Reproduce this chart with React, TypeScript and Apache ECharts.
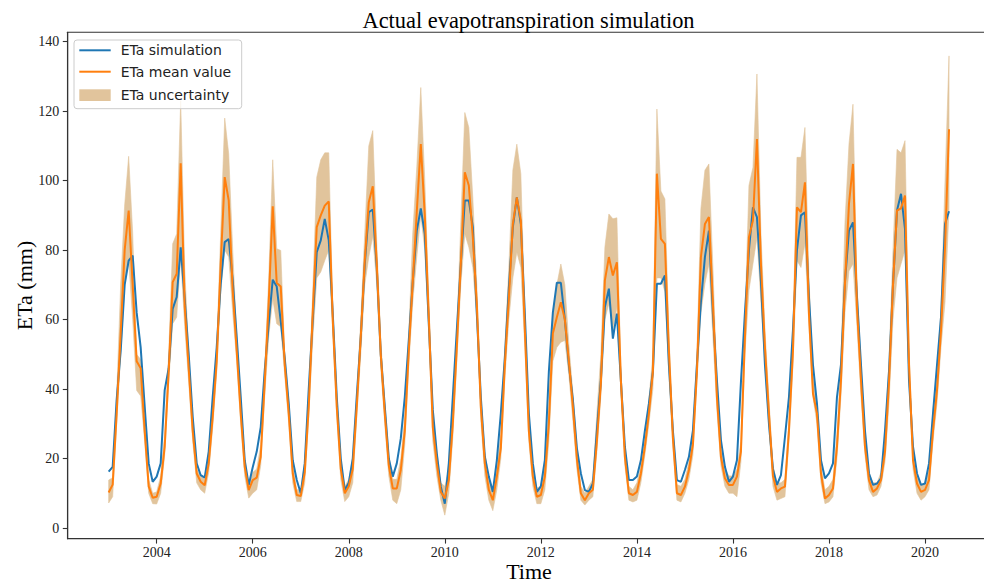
import React, { useEffect, useRef } from "react";
import * as echarts from "echarts";

// Monthly series, first value = January 2003, last value = July 2020
const START_YEAR = 2003;

const simulation = [
  16.2, 17.6, 37, 51, 70, 77, 78.4, 62, 52, 35, 18.6, 13.3, // 2003
  14.8, 18.6, 39.7, 46, 63.1, 66.5, 80.8, 66, 50, 32, 18.6, 15.2, // 2004
  14.5, 22, 37.7, 52, 70.3, 82.3, 83.2, 71.3, 55, 37.7, 19.5, 12.4, // 2005
  17.5, 22, 29, 45.4, 58.8, 71.5, 69.5, 59.5, 49, 35.8, 19.5, 13.8, // 2006
  10, 18.6, 40, 60, 79.4, 82.8, 89, 82.8, 61.7, 37.7, 20, 10.9, // 2007
  13, 20, 38, 55, 76, 90.9, 91.7, 75, 50, 35, 20, 14.8, // 2008
  18.6, 25.8, 37.7, 54, 71, 85.6, 92, 84.7, 58.8, 34, 21.5, 11.9, // 2009
  7, 18.6, 37.7, 57, 76, 94.3, 94.3, 86.6, 61.7, 37.7, 20.5, 14.8, // 2010
  10.4, 19.5, 33, 49, 69, 86.6, 95.2, 87.5, 61.7, 33, 18.6, 10.4, // 2011
  12, 19.5, 45, 62, 70.6, 70.6, 60, 47, 37, 23, 15.7, 10.9, // 2012
  10.4, 12.8, 28, 42.5, 63.6, 68.9, 54.5, 61.7, 42.5, 23.4, 13.8, 13.8, // 2013
  14.8, 19.5, 28, 35.8, 45, 70.3, 70.3, 72.7, 47, 28, 13.8, 13.3, // 2014
  16.7, 20.5, 28, 47, 65, 78, 85.6, 61.7, 42.5, 25.3, 17.6, 13.3, // 2015
  14.8, 19.5, 42, 62, 80, 92.3, 89.5, 71, 47, 30, 17, 12.4, // 2016
  15.2, 26.2, 37.7, 57, 80, 90, 90.9, 66.5, 47, 35.8, 19.5, 14.3, // 2017
  15.7, 18.6, 37.7, 47, 71, 85.6, 88, 66.5, 47, 28, 15.7, 12.4, // 2018
  12.8, 14.3, 28, 45, 70, 91.4, 96.2, 86, 42.5, 23.4, 15.7, 12.4, // 2019
  12.8, 18.6, 33, 47, 60.7, 87.5, 91.2, // 2020
];

const meanValue = [
  10.2, 12.5, 33, 56, 80, 91.4, 70, 48, 46, 28, 12, 8.7, // 2003
  9, 12.8, 23.4, 45, 70.8, 73.2, 105, 64, 46, 28, 15.7, 13.3, // 2004
  12.3, 18.6, 32, 48, 76, 101, 94.3, 68.4, 51, 33, 17.6, 10.9, // 2005
  13.8, 14.5, 20.5, 42, 65, 92.6, 70.5, 69.5, 47, 33, 15.7, 9.5, // 2006
  9.2, 16, 35, 62, 86.6, 90, 92.8, 94, 60, 35, 17, 10, // 2007
  12, 17, 35, 55, 77, 93.8, 98.4, 76, 50, 33, 18, 11.4, // 2008
  11.4, 16.7, 28, 51, 71, 91, 110.5, 90, 60.7, 29, 18.6, 10.4, // 2009
  8.5, 13.8, 30, 52, 76, 102.4, 98.6, 83.7, 64.5, 35, 18.6, 11, // 2010
  8, 14.8, 23, 47, 66, 87.5, 95.2, 88.5, 57, 28, 14.8, 9, // 2011
  9.5, 14.8, 30, 56, 60.7, 65, 60, 48, 35, 20, 10, 8, // 2012
  10, 11, 25, 41.6, 71.3, 78, 72.7, 76.5, 42.5, 20.5, 10, 9.5, // 2013
  10.4, 15.7, 23.4, 33, 45, 102, 83.2, 81.8, 51, 26, 10, 9.5, // 2014
  11.9, 16.7, 24, 45, 78, 87.5, 89.5, 64.6, 37.7, 20.5, 14.3, 12.4, // 2015
  12.4, 14.8, 22, 55, 83.7, 88.5, 112, 76, 52, 33, 15, 10.4, // 2016
  11.4, 11.9, 28, 51, 92.3, 90.9, 99.5, 61.7, 38.7, 33, 15.7, 8.5, // 2017
  9.5, 11.4, 23.4, 42.5, 70.3, 93.3, 104.8, 63.6, 42.5, 23.4, 13.8, 10.4, // 2018
  11.4, 13.8, 22, 42, 70, 91.4, 92, 95.7, 47, 19.5, 12.8, 10.4, // 2019
  11, 13.8, 28, 39.7, 57, 80.8, 114.8, // 2020
];

const uncertaintyLower = [
  7.2, 9, 30, 50, 70, 77, 60, 39.6, 38, 25, 10, 7, // 2003
  6.9, 10, 21, 42, 58.8, 60.7, 78, 58, 42, 25, 13, 11, // 2004
  10, 16, 29, 45, 68, 80, 78, 62, 48, 30, 15, 8.6, // 2005
  10, 11, 18, 38, 55, 66, 58.8, 57.9, 44, 30, 13, 7.6, // 2006
  7.6, 13, 32, 54, 72, 73.7, 77, 80, 56, 32, 14, 7.6, // 2007
  9, 13, 32, 50, 70, 78, 84, 70, 46, 30, 15, 8, // 2008
  7, 11, 24, 47, 65, 78, 90, 80, 56, 25, 15, 8, // 2009
  3.7, 10, 26, 48, 70, 84.7, 80.8, 75, 60, 31, 15, 8, // 2010
  5, 11, 20, 43, 60, 72, 79.4, 75, 52, 25, 12, 7, // 2011
  7, 11, 25, 48, 52, 53.5, 54, 44, 31, 17, 8, 6.6, // 2012
  8, 9, 22, 38, 60, 64.6, 57, 63.6, 39, 18, 8, 7.5, // 2013
  8, 13, 21, 30, 40, 72, 72, 68, 44, 23, 8, 7.5, // 2014
  10, 14, 21, 42, 62, 70.3, 76, 55, 34, 18, 12, 10, // 2015
  10, 9, 19, 50, 68.4, 76, 83.7, 65, 47, 29, 12, 8, // 2016
  8.5, 9, 25, 47, 77, 75, 82, 58, 37.7, 30, 13, 7, // 2017
  7.5, 9, 20, 38, 62, 74, 76, 58, 38, 21, 11, 9, // 2018
  9.5, 12, 19, 36, 60, 72, 76, 80, 42, 17, 10, 8, // 2019
  9, 11, 25, 36, 52, 65, 92, // 2020
];

const uncertaintyUpper = [
  13.8, 14.5, 38, 70, 93, 107, 85, 50, 48.5, 31, 14, 10, // 2003
  10.4, 15, 27, 50, 81.8, 84.7, 123, 75, 50, 30, 17, 15, // 2004
  14, 21, 35, 52, 85, 118, 107.7, 80, 55, 36, 19.5, 12.5, // 2005
  16, 17, 24, 46, 72, 106, 80.4, 79.9, 50, 36, 18, 11, // 2006
  11, 19, 38, 68, 101, 106, 108, 108, 64, 38, 19, 12, // 2007
  14, 20, 38, 60, 85, 110, 114.4, 82, 54, 36, 21, 14, // 2008
  14, 20, 32, 56, 85, 104, 126.8, 100, 66, 33, 22, 13, // 2009
  12, 17, 34, 56, 88, 119.6, 115.3, 95, 70, 38, 22, 14, // 2010
  11, 18, 27, 52, 75, 103, 110.5, 102, 62, 32, 18, 11.5, // 2011
  12, 18, 35, 62, 70, 76, 70, 53, 39, 23, 12, 10, // 2012
  12, 14, 33, 50, 80.8, 90.4, 89, 89.3, 46, 23, 12, 11, // 2013
  13, 18, 26, 37, 50, 120.6, 97, 94.7, 56, 29, 12.5, 12, // 2014
  14, 19, 27, 50, 92, 103, 104.8, 75, 42, 23, 17, 15, // 2015
  15, 17, 25, 60, 98.6, 103.8, 130.7, 85, 57, 37, 18, 13, // 2016
  13, 14, 31, 56, 106.7, 106.7, 115.3, 72, 44, 36, 18, 11, // 2017
  12, 14, 27, 48, 88, 110.5, 122, 70, 47, 26, 16, 13, // 2018
  13, 16, 25, 48, 80, 109, 108, 111.5, 52, 22, 15, 12.5, // 2019
  13, 17, 34, 45, 63, 100, 135.9, // 2020
];

const xTickYears = [2004, 2006, 2008, 2010, 2012, 2014, 2016, 2018, 2020];
const yTickValues = [0, 20, 40, 60, 80, 100, 120, 140];

const TITLE = "Actual evapotranspiration simulation";
const X_NAME = "Time";
const Y_NAME = "ETa (mm)";
const NAME_SIM = "ETa simulation";
const NAME_MEAN = "ETa mean value";
const NAME_BAND = "ETa uncertainty";

const BLUE = "#1f77b4";
const ORANGE = "#ff7f0e";
const TAN = "#e1c49c";
const SERIF = "'Liberation Serif', 'Times New Roman', serif";
const SANS = "'DejaVu Sans', sans-serif";

export default function App() {
  const ref = useRef<HTMLDivElement>(null);

  useEffect(() => {
    document.body.style.margin = "0";
    const el = ref.current;
    if (!el) return;
    const chart = echarts.init(el, null, { renderer: "svg" });

    const xs = simulation.map((_, i) => START_YEAR + i / 12);
    const simData = simulation.map((v, i) => [xs[i], v]);
    const meanData = meanValue.map((v, i) => [xs[i], v]);
    const bandData = uncertaintyLower.map((v, i) => [xs[i], v, uncertaintyUpper[i]]);

    const axisCommon = (ticks: number[], margin: number) => ({
      type: "value",
      splitLine: { show: false },
      axisLine: { show: true, onZero: false, lineStyle: { color: "#333", width: 1.1 } },
      axisTick: {
        show: true,
        customValues: ticks,
        length: 4.9,
        lineStyle: { color: "#333", width: 1.1 },
      },
      axisLabel: {
        customValues: ticks,
        formatter: (v: number) => String(Math.round(v)),
        fontFamily: SERIF,
        fontSize: 14,
        color: "#222",
        margin,
      },
    });

    const option: any = {
      animation: false,
      backgroundColor: "#ffffff",
      grid: {
        left: 67.7,
        top: 32.3,
        width: 923.1,
        height: 506.4,
        show: true,
        borderColor: "#333",
        borderWidth: 1.1,
        backgroundColor: "transparent",
        containLabel: false,
      },
      xAxis: { ...axisCommon(xTickYears, 6.5), min: 2002.147, max: 2021.37 },
      yAxis: { ...axisCommon(yTickValues, 8.5), min: -3.08, max: 142.7 },
      series: [
        {
          name: NAME_BAND,
          type: "custom",
          coordinateSystem: "cartesian2d",
          data: bandData,
          encode: { x: 0, y: [1, 2] },
          silent: true,
          z: 1,
          renderItem: (params: any, api: any) => {
            if (params.dataIndex !== 0) return null;
            const pts: number[][] = [];
            for (let i = 0; i < bandData.length; i++) {
              pts.push(api.coord([bandData[i][0], bandData[i][2]]));
            }
            for (let i = bandData.length - 1; i >= 0; i--) {
              pts.push(api.coord([bandData[i][0], bandData[i][1]]));
            }
            return {
              type: "polygon",
              shape: { points: pts },
              style: { fill: TAN, stroke: TAN, lineWidth: 0.6 },
            };
          },
        },
        {
          name: NAME_SIM,
          type: "line",
          data: simData,
          symbol: "none",
          lineStyle: { color: BLUE, width: 2 },
          itemStyle: { color: BLUE },
          z: 3,
        },
        {
          name: NAME_MEAN,
          type: "line",
          data: meanData,
          symbol: "none",
          lineStyle: { color: ORANGE, width: 2 },
          itemStyle: { color: ORANGE },
          z: 4,
        },
      ],
      graphic: [
        {
          type: "text",
          x: 528.5,
          y: 20,
          z: 100,
          style: {
            text: TITLE,
            font: `22.4px ${SERIF}`,
            fill: "#000",
            align: "center",
            verticalAlign: "middle",
          },
        },
        {
          type: "text",
          x: 529,
          y: 571,
          z: 100,
          style: {
            text: X_NAME,
            font: `22px ${SERIF}`,
            fill: "#000",
            align: "center",
            verticalAlign: "middle",
          },
        },
        {
          type: "text",
          x: 24.5,
          y: 285.5,
          rotation: Math.PI / 2,
          z: 100,
          style: {
            text: Y_NAME,
            font: `22px ${SERIF}`,
            fill: "#000",
            align: "center",
            verticalAlign: "middle",
          },
        },
        {
          type: "group",
          z: 100,
          children: [
            {
              type: "rect",
              z: 100,
              shape: { x: 74, y: 40, width: 167.7, height: 68.7, r: 3 },
              style: { fill: "rgba(255,255,255,0.8)", stroke: "#cccccc", lineWidth: 1 },
            },
            {
              type: "line",
              z: 101,
              shape: { x1: 79.3, y1: 50.3, x2: 110.7, y2: 50.3 },
              style: { stroke: BLUE, lineWidth: 2 },
            },
            {
              type: "line",
              z: 101,
              shape: { x1: 79.3, y1: 71.7, x2: 110.7, y2: 71.7 },
              style: { stroke: ORANGE, lineWidth: 2 },
            },
            {
              type: "rect",
              z: 101,
              shape: { x: 79.3, y: 89.3, width: 31.4, height: 11.7 },
              style: { fill: TAN },
            },
            {
              type: "text",
              z: 101,
              x: 120.7,
              y: 50.3,
              style: { text: NAME_SIM, font: `14px ${SANS}`, fill: "#222", verticalAlign: "middle" },
            },
            {
              type: "text",
              z: 101,
              x: 120.7,
              y: 71.7,
              style: { text: NAME_MEAN, font: `14px ${SANS}`, fill: "#222", verticalAlign: "middle" },
            },
            {
              type: "text",
              z: 101,
              x: 120.7,
              y: 95.2,
              style: { text: NAME_BAND, font: `14px ${SANS}`, fill: "#222", verticalAlign: "middle" },
            },
          ],
        },
      ],
    };

    chart.setOption(option);
    return () => {
      chart.dispose();
    };
  }, []);

  return (
    <div
      style={{
        position: "fixed",
        left: 0,
        top: 0,
        width: 984,
        height: 587,
        overflow: "hidden",
        background: "#ffffff",
      }}
    >
      <div ref={ref} style={{ width: 1000, height: 587 }} />
    </div>
  );
}
